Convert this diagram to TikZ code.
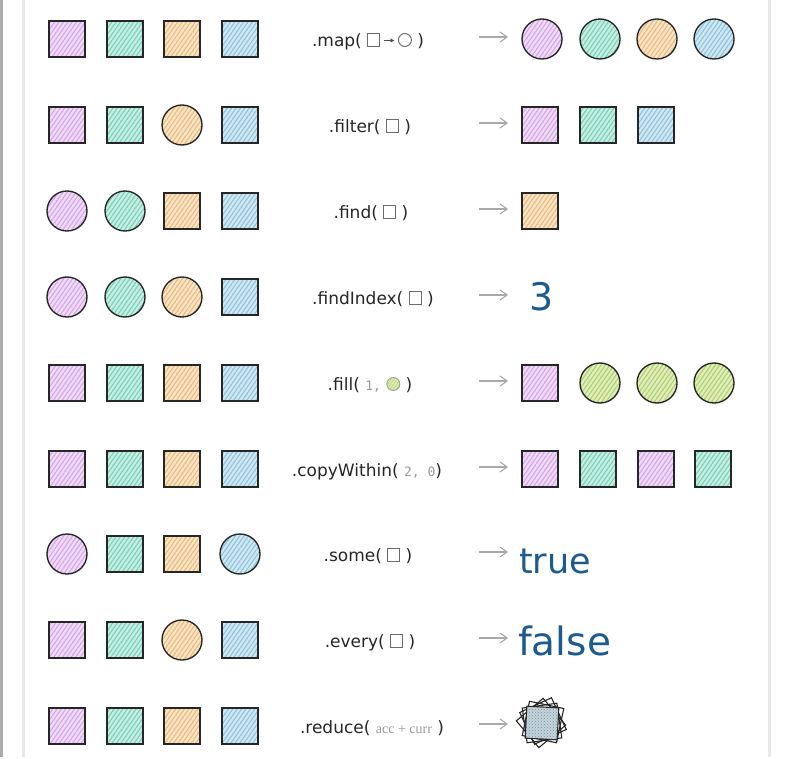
\documentclass[tikz,border=0pt]{standalone}
\usepackage{fontspec}
\setmainfont{DejaVu Sans}
\newfontfamily\monof{DejaVu Sans Mono}
\newfontfamily\serf{Liberation Serif}
\usetikzlibrary{patterns,patterns.meta,arrows.meta}
\definecolor{ink}{HTML}{262626}
\definecolor{pur}{HTML}{D6A6E8}
\definecolor{tea}{HTML}{76D2BA}
\definecolor{ora}{HTML}{EBBB78}
\definecolor{blu}{HTML}{8CC4DE}
\definecolor{gre}{HTML}{B0D264}
\definecolor{res}{HTML}{1D5A8E}
\definecolor{argc}{HTML}{9A9A9A}
\definecolor{stk}{HTML}{9DB8C4}
\newcommand\lsq{\tikz[baseline=0pt]\draw[gray!85!black, line width=1pt] (0pt,0pt) rectangle (12pt,13pt);}
\newcommand\lci{\tikz[baseline=0pt]\draw[gray!85!black, line width=1pt] (6.5pt,6.5pt) circle (6.5pt);}
\newcommand\lar{\tikz[baseline=0pt]\draw[gray!60!black, line width=1pt, -{Latex[length=4pt,width=4.5pt]}] (0pt,6pt) -- (11pt,6pt);}
\newcommand\lgr{\tikz[baseline=0pt]{\path[preaction={fill=gre!40!white}, pattern={Lines[angle=55,distance=2.5pt,line width=0.6pt]}, pattern color=gre] (6.5pt,6.5pt) circle (6.5pt);\draw[gre!50!gray, line width=0.9pt] (6.5pt,6.5pt) circle (6.5pt);}}
\newcommand\argm[1]{{\monof\color{argc}\fontsize{13}{13}\selectfont #1}}
\tikzset{
 shp/.style={draw=ink, line width=1.35pt, inner sep=0pt, preaction={fill=#1!40!white}, pattern={Lines[angle=55,distance=3.6pt,line width=1.1pt]}, pattern color=#1},
 sqr/.style={shp=#1, rectangle, minimum size=36pt},
 crc/.style={shp=#1, circle, minimum size=40pt},
 lbl/.style={font=\fontsize{17}{20}\selectfont, text=ink, inner sep=0pt, anchor=base},
 ans/.style={text=res, anchor=base west, inner sep=0pt},
 arr/.style={draw=argc!85, line width=1.1pt, -{Straight Barb[length=7pt,width=10pt]}},
 stack/.style={draw=ink, line width=1.1pt, rectangle, minimum size=35pt, inner sep=0pt},
}
\begin{document}
\begin{tikzpicture}[x=1pt,y=-1pt]
\useasboundingbox (0,0) rectangle (800,759);
\fill[white] (0,0) rectangle (800,759);
% frame lines
\fill[gray!65] (0,0) rectangle (2.5,757);
\fill[gray!18] (22,0) rectangle (25,757);
\fill[gray!18] (767.5,0) rectangle (770.5,757);

% ---- row 1: map
\node[sqr=pur] (a1) at (67,39) {};
\node[sqr=tea] (b1) at (125,39) {};
\node[sqr=ora] (c1) at (182,39) {};
\node[sqr=blu] (d1) at (240,39) {};
\node[lbl] (l1) at (368,46.5) {.map( \lsq\,\lar\,\lci{} )};
\coordinate (s1) at (479,37); \coordinate (e1) at (508,37);
\draw[arr] (s1) -- (e1);
\node[crc=pur] (p1) at (542,39) {};
\node[crc=tea] (q1) at (600,39) {};
\node[crc=ora] (r1) at (657,39) {};
\node[crc=blu] (t1) at (714,39) {};

% ---- row 2: filter
\node[sqr=pur] (a2) at (67,125) {};
\node[sqr=tea] (b2) at (125,125) {};
\node[crc=ora] (c2) at (182,125) {};
\node[sqr=blu] (d2) at (240,125) {};
\node[lbl] (l2) at (370,132.5) {.filter( \lsq{} )};
\coordinate (s2) at (479,123); \coordinate (e2) at (508,123);
\draw[arr] (s2) -- (e2);
\node[sqr=pur] (p2) at (540,125) {};
\node[sqr=tea] (q2) at (598,125) {};
\node[sqr=blu] (r2) at (656,125) {};

% ---- row 3: find
\node[crc=pur] (a3) at (67,211) {};
\node[crc=tea] (b3) at (125,211) {};
\node[sqr=ora] (c3) at (182,211) {};
\node[sqr=blu] (d3) at (240,211) {};
\node[lbl] (l3) at (371,218.5) {.find( \lsq{} )};
\coordinate (s3) at (479,209); \coordinate (e3) at (508,209);
\draw[arr] (s3) -- (e3);
\node[sqr=ora] (p3) at (540,211) {};

% ---- row 4: findIndex
\node[crc=pur] (a4) at (67,297) {};
\node[crc=tea] (b4) at (125,297) {};
\node[crc=ora] (c4) at (182,297) {};
\node[sqr=blu] (d4) at (240,297) {};
\node[lbl] (l4) at (373,304.5) {.findIndex( \lsq{} )};
\coordinate (s4) at (479,295); \coordinate (e4) at (508,295);
\draw[arr] (s4) -- (e4);
\node[ans, font=\fontsize{38}{40}\selectfont] (p4) at (529,310) {3};

% ---- row 5: fill
\node[sqr=pur] (a5) at (67,383) {};
\node[sqr=tea] (b5) at (125,383) {};
\node[sqr=ora] (c5) at (182,383) {};
\node[sqr=blu] (d5) at (240,383) {};
\node[lbl] (l5) at (370,390.5) {.fill( \argm{1,} \lgr{} )};
\coordinate (s5) at (479,381); \coordinate (e5) at (508,381);
\draw[arr] (s5) -- (e5);
\node[sqr=pur] (p5) at (540,383) {};
\node[crc=gre] (q5) at (600,383) {};
\node[crc=gre] (r5) at (657,383) {};
\node[crc=gre] (t5) at (714,383) {};

% ---- row 6: copyWithin
\node[sqr=pur] (a6) at (67,469) {};
\node[sqr=tea] (b6) at (125,469) {};
\node[sqr=ora] (c6) at (182,469) {};
\node[sqr=blu] (d6) at (240,469) {};
\node[lbl] (l6) at (367,476.5) {.copyWithin( \argm{2, 0})};
\coordinate (s6) at (479,467); \coordinate (e6) at (508,467);
\draw[arr] (s6) -- (e6);
\node[sqr=pur] (p6) at (540,469) {};
\node[sqr=tea] (q6) at (598,469) {};
\node[sqr=pur] (r6) at (656,469) {};
\node[sqr=tea] (t6) at (713,469) {};

% ---- row 7: some
\node[crc=pur] (a7) at (67,554) {};
\node[sqr=tea] (b7) at (125,554) {};
\node[sqr=ora] (c7) at (182,554) {};
\node[crc=blu] (d7) at (240,554) {};
\node[lbl] (l7) at (368,561.5) {.some( \lsq{} )};
\coordinate (s7) at (479,552); \coordinate (e7) at (508,552);
\draw[arr] (s7) -- (e7);
\node[ans, font=\fontsize{35}{36}\selectfont] (p7) at (519,573) {true};

% ---- row 8: every
\node[sqr=pur] (a8) at (67,640) {};
\node[sqr=tea] (b8) at (125,640) {};
\node[crc=ora] (c8) at (182,640) {};
\node[sqr=blu] (d8) at (240,640) {};
\node[lbl] (l8) at (370,647.5) {.every( \lsq{} )};
\coordinate (s8) at (479,638); \coordinate (e8) at (508,638);
\draw[arr] (s8) -- (e8);
\node[ans, font=\fontsize{39}{40}\selectfont] (p8) at (518,655) {false};

% ---- row 9: reduce
\node[sqr=pur] (a9) at (67,726) {};
\node[sqr=tea] (b9) at (125,726) {};
\node[sqr=ora] (c9) at (182,726) {};
\node[sqr=blu] (d9) at (240,726) {};
\node[lbl] (l9) at (372,733.5) {.reduce( {\serf\color{argc}\fontsize{14}{14}\selectfont acc + curr} )};
\coordinate (s9) at (479,724); \coordinate (e9) at (508,724);
\draw[arr] (s9) -- (e9);
\node[stack, rotate=8] (k1) at (542,723) {};
\node[stack, rotate=-12] (k2) at (543,722) {};
\node[stack, rotate=25] (k3) at (543,721) {};
\node[stack, rotate=40] (k4) at (541,723) {};
\node[stack, rotate=-3, minimum size=32pt, preaction={fill=stk!60!white}, pattern=crosshatch dots, pattern color=stk!80!black] (k5) at (542,723) {};
\end{tikzpicture}
\end{document}
